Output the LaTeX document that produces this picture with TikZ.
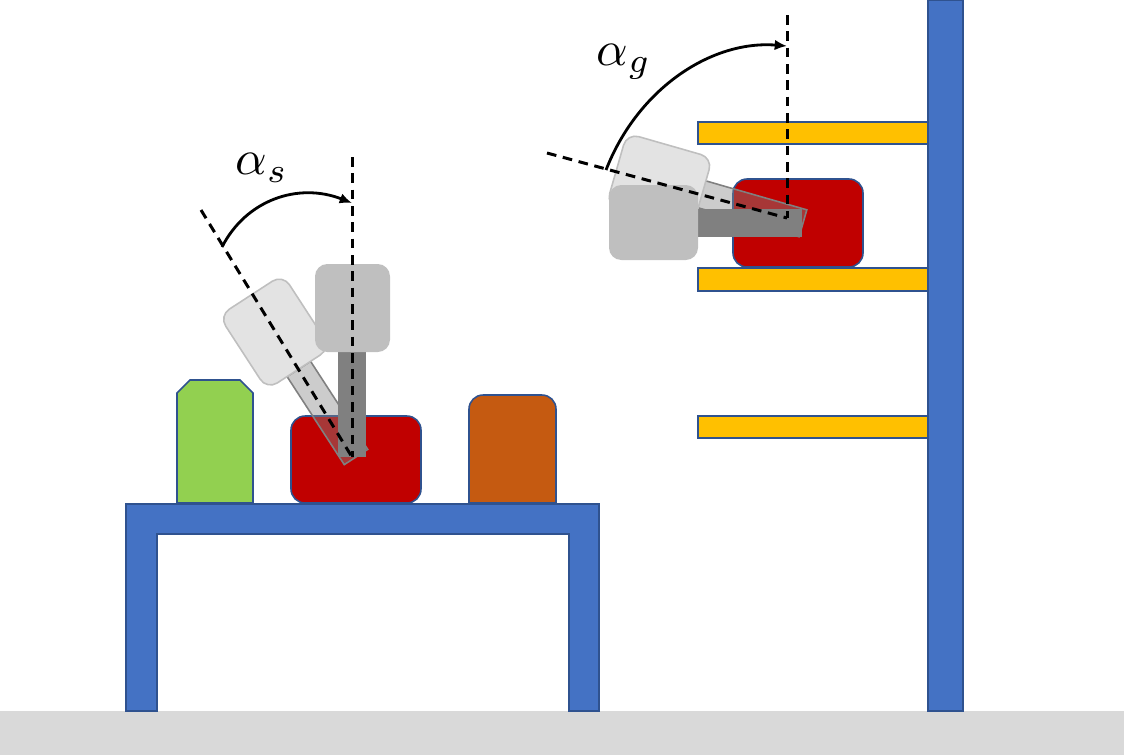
\documentclass[tikz,border=0pt]{standalone}
\usepackage{amsmath}
\usetikzlibrary{arrows.meta}
\definecolor{frameblue}{HTML}{4472C4}
\definecolor{edgeblue}{HTML}{2F528F}
\definecolor{objred}{HTML}{C00000}
\definecolor{objgreen}{HTML}{92D050}
\definecolor{objorange}{HTML}{C55A11}
\definecolor{shelfyellow}{HTML}{FFC000}
\begin{document}
\begin{tikzpicture}[x=0.02cm,y=-0.02cm,
    solid part/.style={draw=edgeblue,line width=0.9pt},
    object/.style={solid part,rounded corners=8pt},
    head/.style={fill=black!25,rounded corners=7pt},
    stem/.style={fill=black!50},
    ghost head/.style={fill=black!11,draw=black!25,line width=0.9pt,rounded corners=7pt},
    ghost stem/.style={fill=black!48,fill opacity=0.42,draw=black!50,line width=0.9pt},
    axis/.style={dashed,dash pattern=on 5.5pt off 3.8pt,line width=1.7pt},
    sweep/.style={-{Latex[length=7pt,width=6pt]},line width=1.6pt},
    angle label/.style={scale=2.8}
    ]
    \useasboundingbox (0,0) rectangle (1124,755);
    % floor, table and wall
    \fill[black!15] (0,711) rectangle (1124,755);
    \draw[solid part,fill=frameblue] (126,711) -- (126,504) -- (599,504) -- (599,711) -- (569,711) -- (569,534) -- (157,534) -- (157,711) -- cycle;
    \draw[solid part,fill=frameblue] (928,0) rectangle (963,711);
    % shelves
    \draw[solid part,fill=shelfyellow] (698,122) rectangle (928,144);
    \draw[solid part,fill=shelfyellow] (698,268) rectangle (928,291);
    \draw[solid part,fill=shelfyellow] (698,416) rectangle (928,438);
    % objects
    \draw[solid part,fill=objgreen] (177,503) -- (177,393) -- (190,380) -- (240,380) -- (253,393) -- (253,503) -- cycle;
    \draw[object,fill=objred] (291,416) rectangle (421,503);
    \draw[solid part,fill=objorange] (469,503) [rounded corners=8pt] -- (469,395) -- (556,395) [sharp corners] -- (556,503) -- cycle;
    \draw[object,fill=objred] (733,179) rectangle (863,267);
    % gripper at the table, tilted and upright
    \begin{scope}[rotate around={33:(356,457)}]
    \draw[ghost stem] (342,352) rectangle (370,457);
    \draw[ghost head] (318,264) rectangle (394,352);
    \end{scope}
    \fill[stem] (338,350) rectangle (366,457);
    \fill[head] (315,264) rectangle (390,352);
    % gripper at the shelf, tilted and level
    \begin{scope}[rotate around={-16:(802,223)}]
    \draw[ghost stem] (697,209) rectangle (803,237);
    \draw[ghost head] (609,185) rectangle (698,260);
    \end{scope}
    \fill[stem] (696,209) rectangle (802,237);
    \fill[head] (609,185) rectangle (698,260);
    % axes
    \coordinate (Ps) at (352,457);
    \coordinate (Ts) at (352,157);
    \coordinate (Ls) at (201,210);
    \coordinate (As) at (222,247);
    \coordinate (Bs) at (352,203);
    \coordinate (Pg) at (787,218);
    \coordinate (Tg) at (787,15);
    \coordinate (Lg) at (547,153);
    \coordinate (Ag) at (606,170);
    \coordinate (Bg) at (787,46);
    \draw[axis] (Ts) -- (Ps);
    \draw[axis] (Ls) -- (Ps);
    \draw[axis] (Tg) -- (Pg);
    \draw[axis] (Lg) -- (Pg);
    \draw[sweep] (As) .. controls (246,200) and (298,182) .. (Bs);
    \draw[sweep] (Ag) .. controls (638,88) and (712,40) .. (Bg);
    \node[angle label] (Ss) at (262,168) {$\alpha_s$};
    \node[angle label] (Sg) at (624,62) {$\alpha_g$};
    \end{tikzpicture}
\end{document}
